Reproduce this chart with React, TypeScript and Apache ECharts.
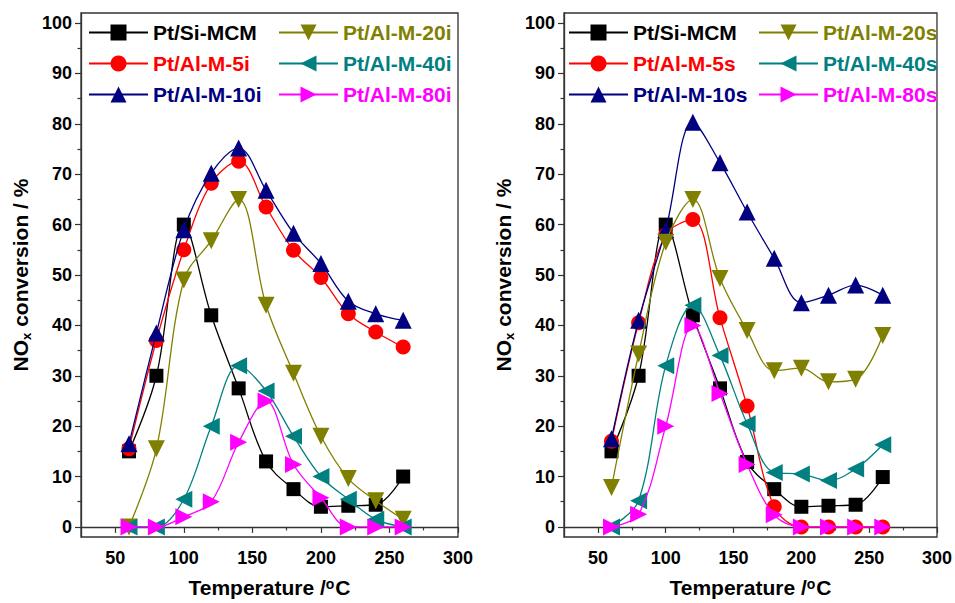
import React, { useEffect, useRef } from 'react';
import * as echarts from 'echarts';

const temps = [60, 80, 100, 120, 140, 160, 180, 200, 220, 240, 260];

const leftNames = ['Pt/Si-MCM', 'Pt/Al-M-5i', 'Pt/Al-M-10i', 'Pt/Al-M-20i', 'Pt/Al-M-40i', 'Pt/Al-M-80i'];
const rightNames = ['Pt/Si-MCM', 'Pt/Al-M-5s', 'Pt/Al-M-10s', 'Pt/Al-M-20s', 'Pt/Al-M-40s', 'Pt/Al-M-80s'];

const siMcmI = [15, 30, 60, 42, 27.5, 13, 7.5, 4, 4.2, 4.4, 10];
const al5i = [15.5, 37, 55, 68.2, 72.6, 63.5, 54.9, 49.5, 42.3, 38.7, 35.7];
const al10i = [16.5, 38.5, 59, 70.2, 75.2, 66.8, 58.3, 52.3, 44.8, 42.3, 41];
const al20i = [0, 15.5, 49, 56.8, 65, 44, 30.5, 18, 9.6, 5.2, 1.5];
const al40i = [0, 0, 5.5, 20, 32, 27, 18, 10, 5.5, 1.5, 0];
const al80i = [0, 0, 2, 5, 16.8, 25, 12.4, 5.8, 0, 0, 0];

const siMcmS = [15, 30, 60, 42, 27.5, 12.9, 7.5, 4, 4.2, 4.4, 9.9];
const al5s = [17, 40.5, 58, 61, 41.5, 24, 4, 0, 0, 0, 0];
const al10s = [17.5, 41, 59, 80.3, 72.3, 62.5, 53.3, 44.5, 46, 48, 46];
const al20s = [7.8, 34.3, 56.5, 65, 49.3, 39, 31, 31.5, 28.8, 29.3, 38];
const al40s = [0, 5.2, 32, 44, 34, 20.5, 10.8, 10.5, 9.2, 11.5, 16.3];
const al80s = [0, 2.5, 20, 40, 26.5, 12.4, 2.4, 0, 0, 0, 0];

const xMajor = [50, 100, 150, 200, 250, 300];
const xMinor = [75, 125, 175, 225, 275];
const yMajor = [0, 10, 20, 30, 40, 50, 60, 70, 80, 90, 100];
const yMinor = [5, 15, 25, 35, 45, 55, 65, 75, 85, 95];

const colors = ['#000000', '#FF0000', '#000080', '#808000', '#008080', '#FF00FF'];
const symbols = ['rect', 'circle', 'triangle', 'triangle', 'triangle', 'triangle'];
const symbolSizes = [14, 15, 17, 17, 17, 17];
const symbolRotates = [0, 0, 0, 180, 90, -90];

const FONT = 'Liberation Sans, Arial, Helvetica, sans-serif';
const AXIS_COLOR = '#333333';

function buildPanel(idx: number, gridLeft: number, names: string[], data: number[][], legLeft1: number, legLeft2: number) {
  const xa = idx * 2;
  const ya = idx * 2;
  const grid = {
    left: gridLeft, top: 13, width: 377, height: 530,
    show: true, borderColor: AXIS_COLOR, borderWidth: 1.3, containLabel: false,
  };
  const xAxes = [
    {
      type: 'value', gridIndex: idx, position: 'bottom', min: 25, max: 300,
      name: 'Temperature /{s|o}C', nameLocation: 'middle', nameGap: 40,
      nameTextStyle: {
        fontSize: 21, fontWeight: 'bold', fontFamily: FONT, color: '#000',
        rich: { s: { fontSize: 14, fontWeight: 'bold', fontFamily: FONT, verticalAlign: 'top', padding: [0, 1, 7, 0] } },
      },
      axisLine: { show: true, lineStyle: { color: AXIS_COLOR, width: 1.3 } },
      axisTick: { show: true, inside: false, length: 6, customValues: xMajor, lineStyle: { color: AXIS_COLOR, width: 1.2 } },
      axisLabel: { customValues: xMajor, fontSize: 18, fontWeight: 'bold', fontFamily: FONT, color: '#000', margin: 12 },
      splitLine: { show: false },
    },
    {
      type: 'value', gridIndex: idx, position: 'bottom', min: 25, max: 300,
      axisLine: { show: false },
      axisTick: { show: true, inside: false, length: 3.5, customValues: xMinor, lineStyle: { color: AXIS_COLOR, width: 1.2 } },
      axisLabel: { show: false },
      splitLine: { show: false },
    },
  ];
  const yAxes = [
    {
      type: 'value', gridIndex: idx, position: 'left', min: -2, max: 102,
      name: '{a|NO}{b|x}{a| conversion / %}', nameLocation: 'middle', nameGap: 48, nameRotate: 90,
      nameTextStyle: {
        color: '#000',
        rich: {
          a: { fontSize: 21, fontWeight: 'bold', fontFamily: FONT, color: '#000', lineHeight: 25 },
          b: { fontSize: 13, fontWeight: 'bold', fontFamily: FONT, color: '#000', verticalAlign: 'bottom', lineHeight: 25, padding: [10, 0, 0, 0] },
        },
      },
      axisLine: { show: true, lineStyle: { color: AXIS_COLOR, width: 1.3 } },
      axisTick: { show: true, inside: false, length: 6, customValues: yMajor, lineStyle: { color: AXIS_COLOR, width: 1.2 } },
      axisLabel: { customValues: yMajor, fontSize: 18, fontWeight: 'bold', fontFamily: FONT, color: '#000', margin: 9 },
      splitLine: { show: false },
    },
    {
      type: 'value', gridIndex: idx, position: 'left', min: -2, max: 102,
      axisLine: { show: false },
      axisTick: { show: true, inside: false, length: 3.5, customValues: yMinor, lineStyle: { color: AXIS_COLOR, width: 1.2 } },
      axisLabel: { show: false },
      splitLine: { show: false },
    },
  ];
  const series = names.map((name, i) => ({
    name,
    type: 'line',
    xAxisIndex: xa,
    yAxisIndex: ya,
    data: temps.map((t, k) => [t, data[i][k]]),
    smooth: 0.35,
    symbol: symbols[i],
    symbolSize: symbolSizes[i],
    symbolRotate: symbolRotates[i],
    showAllSymbol: true,
    lineStyle: { color: colors[i], width: 1.3 },
    itemStyle: { color: colors[i] },
    z: 2 + i,
    emphasis: { disabled: true },
  }));
  const legendBase = {
    orient: 'vertical', top: 22, padding: 0, itemWidth: 59, itemHeight: 20, itemGap: 10,
    textStyle: { fontSize: 21, fontWeight: 'bold', fontFamily: FONT },
    selectedMode: false,
  };
  const legends = [
    { ...legendBase, left: legLeft1, data: names.slice(0, 3).map((n, i) => ({ name: n, textStyle: { color: colors[i] } })) },
    { ...legendBase, left: legLeft2, data: names.slice(3, 6).map((n, i) => ({ name: n, textStyle: { color: colors[i + 3] } })) },
  ];
  return { grid, xAxes, yAxes, series, legends };
}

export default function App() {
  const ref = useRef<HTMLDivElement>(null);
  useEffect(() => {
    if (!ref.current) return;
    const chart = echarts.init(ref.current, undefined, { renderer: 'svg' });
    const p1 = buildPanel(0, 81, leftNames, [siMcmI, al5i, al10i, al20i, al40i, al80i], 88, 278);
    const p2 = buildPanel(1, 564, rightNames, [siMcmS, al5s, al10s, al20s, al40s, al80s], 568, 758);
    chart.setOption({
      animation: false,
      backgroundColor: '#ffffff',
      grid: [p1.grid, p2.grid],
      xAxis: [...p1.xAxes, ...p2.xAxes],
      yAxis: [...p1.yAxes, ...p2.yAxes],
      legend: [...p1.legends, ...p2.legends],
      series: [...p1.series, ...p2.series],
    });
    return () => chart.dispose();
  }, []);
  return <div ref={ref} style={{ position: 'fixed', left: 0, top: 0, width: 955, height: 603 }} />;
}
